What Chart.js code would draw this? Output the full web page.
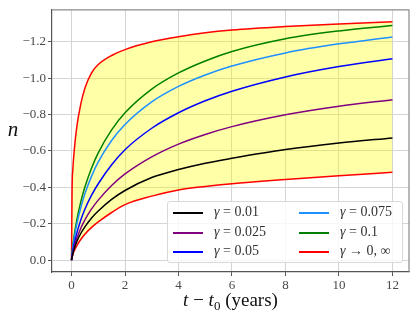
<!DOCTYPE html>
<html>
<head>
<meta charset="utf-8">
<script src="https://cdn.jsdelivr.net/npm/chart.js@4.4.1/dist/chart.umd.min.js"></script>
<style>
html, body { margin: 0; padding: 0; background: #fff; }
#wrap { position: relative; width: 416px; height: 319px; }
#legend {
    position: absolute; left: 167px; top: 201px; width: 236px; height: 62px;
    box-sizing: border-box; border: 1px solid #d9d9d9; border-radius: 3px;
    background: rgba(255, 255, 255, 0.8);
    font-family: 'Liberation Serif', serif; font-size: 14px; color: #333;
}
.item { position: absolute; height: 20px; line-height: 20px; white-space: nowrap; }
.sw { position: absolute; left: 0; top: 9px; width: 30px; height: 2px; }
.txt { position: absolute; left: 41px; top: -1px; }
</style>
</head>
<body>
<div id="wrap">
    <canvas id="myChartN" width="416" height="319"></canvas>
    <div id="legend"></div>
</div>
<script>
// time since t0 (years)
var tYears = [0, 0.02, 0.05, 0.1, 0.2, 0.35, 0.5, 0.75, 1, 1.5, 2, 3, 4, 5, 6, 8, 10, 12];

// n(t) for each gamma
var nG001 = [0, -0.017, -0.035, -0.062, -0.103, -0.148, -0.183, -0.232, -0.27, -0.334, -0.383, -0.454, -0.498, -0.533, -0.56, -0.608, -0.644, -0.672];
var nG0025 = [0, -0.019, -0.04, -0.072, -0.12, -0.177, -0.222, -0.282, -0.33, -0.41, -0.474, -0.568, -0.638, -0.691, -0.734, -0.799, -0.846, -0.882];
var nG005 = [0, -0.025, -0.052, -0.089, -0.15, -0.222, -0.28, -0.357, -0.42, -0.5245, -0.607, -0.725, -0.81, -0.876, -0.9285, -1.007, -1.064, -1.107];
var nG0075 = [0, -0.0355, -0.072, -0.1215, -0.2, -0.291, -0.365, -0.462, -0.54, -0.658, -0.746, -0.87, -0.955, -1.018, -1.067, -1.139, -1.189, -1.227];
var nG01 = [0, -0.04, -0.081, -0.136, -0.223, -0.323, -0.402, -0.507, -0.59, -0.716, -0.81, -0.94, -1.029, -1.095, -1.147, -1.217, -1.26, -1.29];
var nUpper = [0, -0.38, -0.5, -0.6, -0.735, -0.86, -0.945, -1.03, -1.075, -1.125, -1.157, -1.2, -1.228, -1.25, -1.265, -1.284, -1.298, -1.31];
var nLower = [0, -0.014, -0.03, -0.05, -0.08, -0.115, -0.143, -0.18, -0.21, -0.262, -0.305, -0.352, -0.386, -0.405, -0.42, -0.443, -0.464, -0.483];

var gammaLabels = ['0.01', '0.025', '0.05', '0.075', '0.1', '0, ∞'];
var lineColors = ['#000000', '#800080', '#0000ff', '#1e90ff', '#008000', '#ff0000'];

var xTicks = [0, 2, 4, 6, 8, 10, 12];
var yTicks = [-1.2, -1.0, -0.8, -0.6, -0.4, -0.2, 0.0];

function pts(arr) {
    return tYears.map(function (t, i) { return { x: t, y: arr[i] }; });
}

var series = [nG001, nG0025, nG005, nG0075, nG01, nUpper];
var datasets = series.map(function (arr, i) {
    return {
        label: gammaLabels[i],
        data: pts(arr),
        borderColor: lineColors[i],
        borderWidth: 1.5,
        pointRadius: 0,
        fill: false,
        cubicInterpolationMode: 'monotone'
    };
});
datasets.push({
    label: 'lower',
    data: pts(nLower),
    borderColor: '#ff0000',
    borderWidth: 1.5,
    pointRadius: 0,
    fill: { target: 5 },
    backgroundColor: 'rgba(255, 255, 0, 0.34)',
    cubicInterpolationMode: 'monotone'
});

var tickFont = { family: "'Liberation Serif', serif", size: 13 };

var frame = {
    id: 'frame',
    afterDatasetsDraw: function (chart) {
        var a = chart.chartArea, c = chart.ctx;
        c.save();
        c.strokeStyle = '#8a8a8a';
        c.lineWidth = 1.2;
        c.beginPath();
        c.moveTo(a.left, a.top); c.lineTo(a.right, a.top); c.lineTo(a.right, a.bottom);
        c.stroke();
        c.restore();
    },
    afterDraw: function (chart) {
        var c = chart.ctx, a = chart.chartArea;
        c.save();
        c.fillStyle = '#111';
        c.textBaseline = 'alphabetic';
        c.font = "italic 21px 'Liberation Serif'";
        c.textAlign = 'center';
        c.fillText('n', 13, 136);
        // x title: t − t0 (years)
        var parts = [
            ['t', "italic 19px 'Liberation Serif'", 0],
            [' − ', "19px 'Liberation Serif'", 0],
            ['t', "italic 19px 'Liberation Serif'", 0],
            ['0', "13px 'Liberation Serif'", 4],
            [' (years)', "19px 'Liberation Serif'", 0]
        ];
        var w = 0;
        parts.forEach(function (p) { c.font = p[1]; w += c.measureText(p[0]).width; });
        var x = (a.left + a.right) / 2 - w / 2;
        c.textAlign = 'left';
        parts.forEach(function (p) {
            c.font = p[1];
            c.fillText(p[0], x, 306 + p[2]);
            x += c.measureText(p[0]).width;
        });
        c.restore();
    }
};

var ctN = document.getElementById('myChartN').getContext('2d');
var myChartN = new Chart(ctN, {
    type: 'line',
    data: { datasets: datasets },
    options: {
        responsive: false,
        animation: false,
        devicePixelRatio: 1,
        layout: { padding: { top: 5, right: 7, left: 0, bottom: 0 } },
        plugins: {
            legend: { display: false },
            tooltip: { enabled: false },
            filler: { drawTime: 'beforeDatasetsDraw' }
        },
        scales: {
            x: {
                type: 'linear',
                min: -0.73,
                max: 12.62,
                afterBuildTicks: function (s) { s.ticks = xTicks.map(function (v) { return { value: v }; }); },
                afterFit: function (s) { s.height = 47; },
                ticks: {
                    font: tickFont, color: '#484848', padding: 2, maxRotation: 0,
                    callback: function (v) { return String(v); }
                },
                grid: { color: '#d4d4d4', lineWidth: 1, tickLength: 4, tickColor: '#555' },
                border: { color: '#555', width: 1.2 }
            },
            y: {
                type: 'linear',
                reverse: true,
                min: -1.376,
                max: 0.065,
                afterBuildTicks: function (s) { s.ticks = yTicks.map(function (v) { return { value: v }; }); },
                afterFit: function (s) { s.width = 52; },
                ticks: {
                    font: tickFont, color: '#484848', padding: 2,
                    callback: function (v) { return v === 0 ? '0.0' : '\u2212' + Math.abs(v).toFixed(1); }
                },
                grid: { color: '#d4d4d4', lineWidth: 1, tickLength: 4, tickColor: '#555' },
                border: { color: '#555', width: 1.2 }
            }
        }
    },
    plugins: [frame]
});

// legend, two columns, inside the axes
var legendPos = [[0, 0], [0, 1], [0, 2], [1, 0], [1, 1], [1, 2]];
var lg = document.getElementById('legend');
gammaLabels.forEach(function (g, i) {
    var col = legendPos[i][0], row = legendPos[i][1];
    var d = document.createElement('div');
    d.className = 'item';
    d.style.left = (col ? 131 : 5) + 'px';
    d.style.top = (1 + row * 19.5) + 'px';
    var sw = document.createElement('div');
    sw.className = 'sw';
    sw.style.background = lineColors[i];
    var tx = document.createElement('span');
    tx.className = 'txt';
    tx.innerHTML = '<i>γ</i> ' + (i === 5 ? '→ ' : '= ') + g;
    d.appendChild(sw);
    d.appendChild(tx);
    lg.appendChild(d);
});
</script>
</body>
</html>
